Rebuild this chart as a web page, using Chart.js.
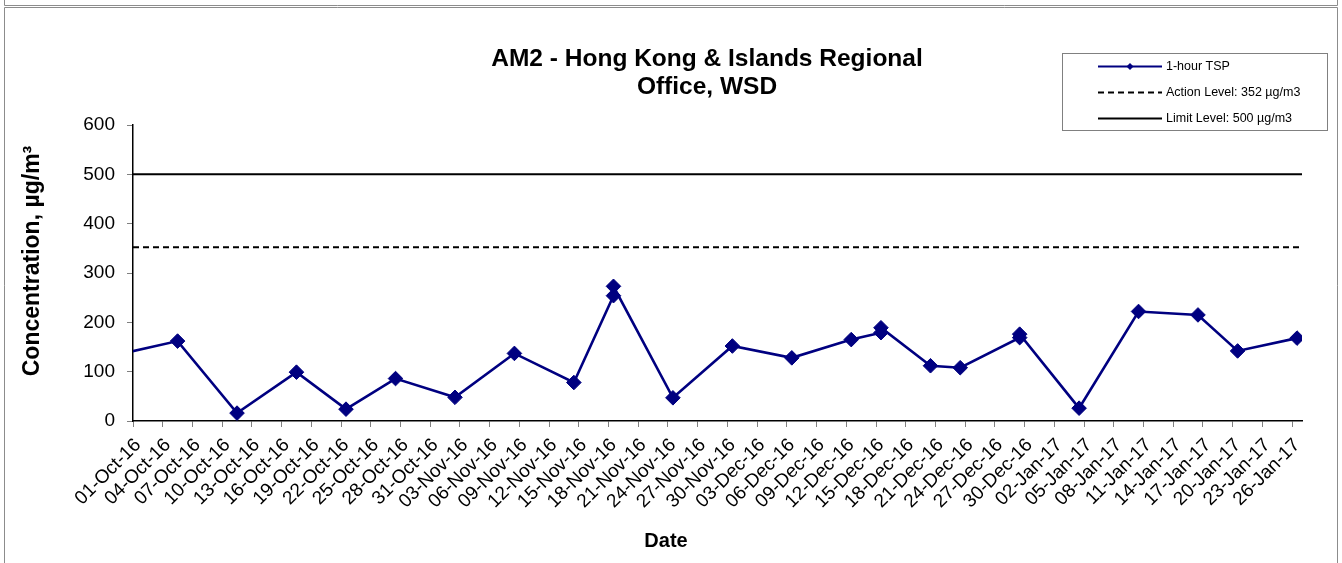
<!DOCTYPE html>
<html>
<head>
<meta charset="utf-8">
<script src="https://cdn.jsdelivr.net/npm/chart.js@4.4.0/dist/chart.umd.min.js"></script>
<style>
html,body{margin:0;padding:0;background:#fff;overflow:hidden}
#wrap{position:relative;width:1342px;height:563px}
</style>
</head>
<body>
<div id="wrap"><canvas id="c" width="1342" height="563"></canvas></div>
<script>
// ---- data ----
const titleLines = ['AM2 - Hong Kong & Islands Regional', 'Office, WSD'];
const seriesLabels = ['1-hour TSP', 'Action Level: 352 \u00b5g/m3', 'Limit Level: 500 \u00b5g/m3'];
const tspDates = ['2016-09-29','2016-10-05','2016-10-11','2016-10-17','2016-10-22','2016-10-27',
  '2016-11-02','2016-11-08','2016-11-14','2016-11-18','2016-11-18','2016-11-24','2016-11-30',
  '2016-12-06','2016-12-12','2016-12-15','2016-12-15','2016-12-20','2016-12-23','2016-12-29',
  '2016-12-29','2017-01-04','2017-01-10','2017-01-16','2017-01-20','2017-01-26'];
const tspValues = [135,162,16,99,24,86,48,137,78,254,273,47,152,128,165,179,189,112,108,169,176,26,222,215,142,168];
const actionLevel = 352;
const limitLevel = 500;
const axisStartDate = '2016-10-01';
const axisEndDate = '2017-01-27';
const lastTickDate = '2017-01-26';
const tickEveryDays = 3;
const yTicks = [0,100,200,300,400,500,600];
const xTitle = 'Date';
const yTitle = 'Concentration, \u00b5g/m\u00b3';
const monthNames = ['Jan','Feb','Mar','Apr','May','Jun','Jul','Aug','Sep','Oct','Nov','Dec'];

// ---- helpers ----
const DAY = 86400000;
function utc(s){const p=s.split('-').map(Number);return Date.UTC(p[0],p[1]-1,p[2]);}
const origin = utc(axisStartDate);
function dayIndex(s){return (utc(s)-origin)/DAY;}
function fmtDay(d){
  const dt = new Date(origin + Math.round(d)*DAY);
  const dd = String(dt.getUTCDate()).padStart(2,'0');
  return dd + '-' + monthNames[dt.getUTCMonth()] + '-' + String(dt.getUTCFullYear()).slice(2);
}
const SLOT = 0.5; // points sit in the middle of their day slot
const xMin = 0, xMax = dayIndex(axisEndDate);
const FONT = "'Liberation Sans', Arial, sans-serif";

const tspPoints = tspDates.map((d,i)=>({x: dayIndex(d)+SLOT, y: tspValues[i]}));

const overlay = {
  id: 'overlay',
  beforeDraw(chart){
    const ctx = chart.ctx;
    ctx.save();
    ctx.fillStyle = '#fff';
    ctx.fillRect(0,0,chart.width,chart.height);
    ctx.strokeStyle = '#8c8c8c';
    ctx.lineWidth = 1;
    ctx.beginPath();
    ctx.moveTo(4.5,0); ctx.lineTo(4.5,5.5); ctx.lineTo(1337.5,5.5); ctx.lineTo(1337.5,0);
    ctx.moveTo(4.5,563); ctx.lineTo(4.5,7.5); ctx.lineTo(1337.5,7.5); ctx.lineTo(1337.5,563);
    ctx.stroke();
    ctx.restore();
  },
  afterDraw(chart){
    const ctx = chart.ctx;
    ctx.save();
    ctx.fillStyle = '#000';
    ctx.textAlign = 'center';
    ctx.textBaseline = 'middle';
    // title
    ctx.font = 'bold 24.5px ' + FONT;
    ctx.fillText(titleLines[0], 707, 59);
    ctx.fillText(titleLines[1], 707, 87);
    // axis titles
    ctx.font = 'bold 20px ' + FONT;
    ctx.fillText(xTitle, 666, 541);
    ctx.save();
    ctx.translate(33, 261);
    ctx.rotate(-Math.PI/2);
    ctx.font = 'bold 23px ' + FONT;
    ctx.fillText(yTitle, 0, 0);
    ctx.restore();
    // legend box
    ctx.strokeStyle = '#808080';
    ctx.lineWidth = 1;
    ctx.strokeRect(1062.5, 53.5, 265, 77);
    const rows = [66.5, 92.5, 118.5];
    chart.data.datasets.forEach((ds,i)=>{
      const y = rows[i];
      ctx.save();
      ctx.strokeStyle = ds.borderColor;
      ctx.lineWidth = 2;
      ctx.setLineDash(ds.borderDash || []);
      ctx.beginPath(); ctx.moveTo(1098, y); ctx.lineTo(1162, y); ctx.stroke();
      ctx.restore();
      if (ds.pointRadius > 0) {
        ctx.fillStyle = ds.backgroundColor;
        ctx.beginPath();
        ctx.moveTo(1130, y-3.5); ctx.lineTo(1133.5, y); ctx.lineTo(1130, y+3.5); ctx.lineTo(1126.5, y);
        ctx.closePath(); ctx.fill();
      }
      ctx.fillStyle = '#000';
      ctx.font = '12.5px ' + FONT;
      ctx.textAlign = 'left';
      ctx.fillText(ds.label, 1166, y);
    });
    ctx.restore();
  }
};

new Chart(document.getElementById('c'), {
  type: 'line',
  data: {
    datasets: [
      { label: seriesLabels[0], data: tspPoints, borderColor: '#000080', backgroundColor: '#000080',
        borderWidth: 2.6, pointStyle: 'rectRot', pointRadius: 7.3, pointHoverRadius: 7.3,
        pointBorderWidth: 1, pointBorderColor: '#000080', tension: 0, order: 0 },
      { label: seriesLabels[1], data: [{x:xMin,y:actionLevel},{x:xMax,y:actionLevel}], borderColor: '#000',
        backgroundColor: '#000', borderWidth: 2, borderDash: [6,4], pointRadius: 0, tension: 0, order: 1 },
      { label: seriesLabels[2], data: [{x:xMin,y:limitLevel},{x:xMax,y:limitLevel}], borderColor: '#000',
        backgroundColor: '#000', borderWidth: 2, pointRadius: 0, tension: 0, order: 2 }
    ]
  },
  options: {
    responsive: false,
    animation: false,
    devicePixelRatio: 1,
    layout: { padding: { left: 16, right: 40, top: 125, bottom: 7 } },
    plugins: { legend: { display: false }, title: { display: false }, tooltip: { enabled: false } },
    scales: {
      x: {
        type: 'linear', min: xMin, max: xMax,
        afterBuildTicks(s){ const t=[]; for(let d=0; d<=dayIndex(lastTickDate); d+=tickEveryDays) t.push({value:d}); s.ticks=t; },
        afterFit(s){ s.height = 135; },
        ticks: { autoSkip: false, maxRotation: 45, minRotation: 45, padding: 7, labelOffset: 5, color: '#000',
          font: { family: FONT, size: 19 }, callback: v => fmtDay(v) },
        grid: { display: true, drawOnChartArea: false, drawTicks: true, tickLength: 6, color: '#808080' },
        border: { display: true, color: '#000', width: 1.5 },
        title: { display: false }
      },
      y: {
        type: 'linear', min: 0, max: 600,
        afterBuildTicks(s){ s.ticks = yTicks.map(v=>({value:v})); },
        afterFit(s){ s.width = 117; },
        ticks: { padding: 12, color: '#000', font: { family: FONT, size: 19 } },
        grid: { display: true, drawOnChartArea: false, drawTicks: true, tickLength: 6, color: '#808080' },
        border: { display: true, color: '#000', width: 1.5 },
        title: { display: false }
      }
    }
  },
  plugins: [overlay]
});
</script>
</body>
</html>
